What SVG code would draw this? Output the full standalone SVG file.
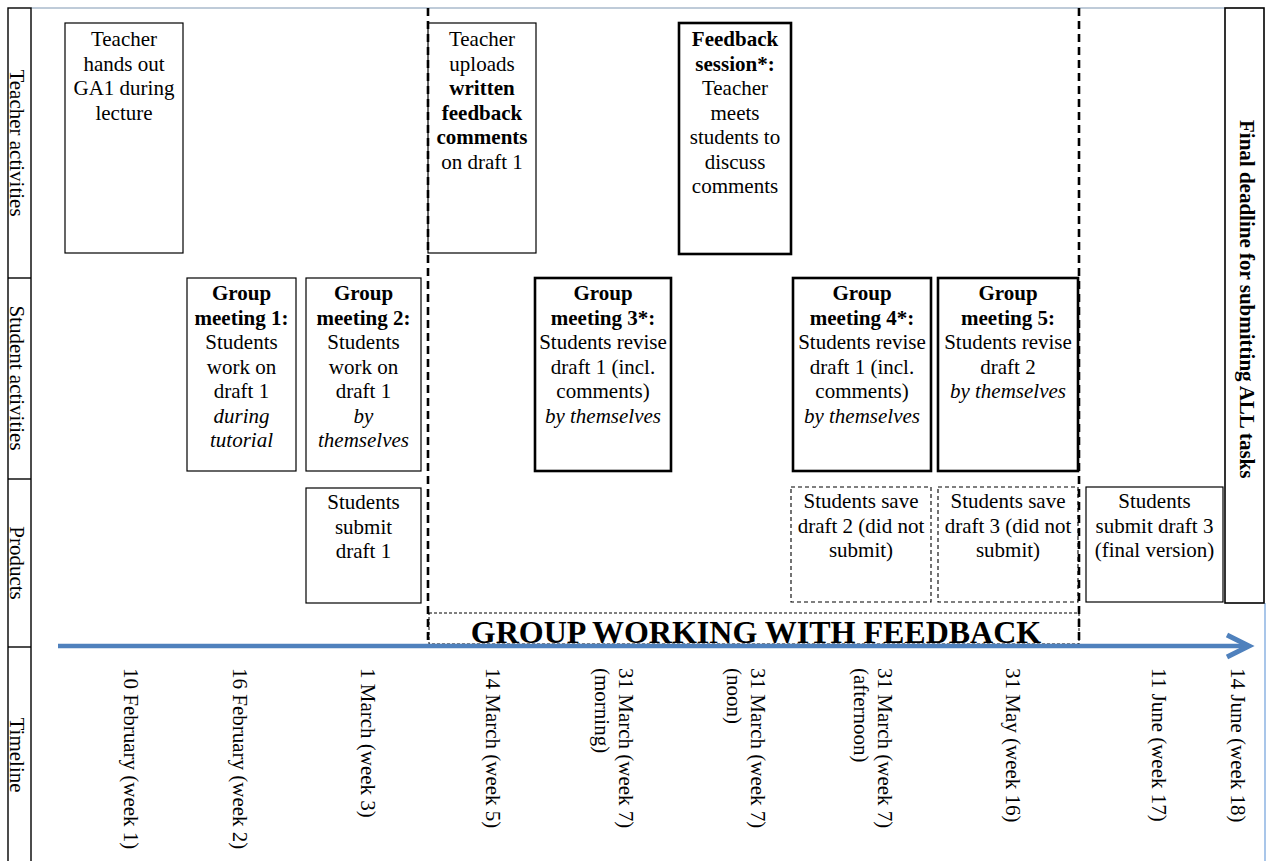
<svg xmlns="http://www.w3.org/2000/svg" width="1270" height="861" viewBox="0 0 1270 861">
<style>
text{font-family:"Liberation Serif","Times New Roman",serif;font-size:21px;fill:#000}
.c{text-anchor:middle}
.b{font-weight:bold}
.i{font-style:italic}
.thin{fill:#fff;stroke:#000;stroke-width:1.2}
.thick{fill:#fff;stroke:#000;stroke-width:2.6}
.dash{fill:#fff;stroke:#000;stroke-width:1.1;stroke-dasharray:4 3}
.bigdash{fill:none;stroke:#000;stroke-width:2.6;stroke-dasharray:8 5}
</style>
<defs>
<marker id="chev" markerUnits="userSpaceOnUse" markerWidth="34" markerHeight="32" refX="26" refY="15" orient="auto">
<path d="M4,4 L26,15 L4,26" fill="none" stroke="#4f81bd" stroke-width="5"/>
</marker>
</defs>
<rect width="1270" height="861" fill="#fff"/>

<g id="frame">
<line x1="31" y1="8" x2="1225" y2="8" stroke="#7f97b2" stroke-width="1"/>
<line x1="1265" y1="603" x2="1265" y2="861" stroke="#8db3e2" stroke-width="1.5"/>
<rect x="8" y="8" width="23" height="870" fill="none" stroke="#000" stroke-width="1.4"/>
<line x1="8" y1="278" x2="31" y2="278" stroke="#000" stroke-width="1.4"/>
<line x1="8" y1="479" x2="31" y2="479" stroke="#000" stroke-width="1.4"/>
<line x1="8" y1="647" x2="31" y2="647" stroke="#000" stroke-width="1.4"/>
</g>

<g id="row-labels">
<text class="c" transform="translate(10,143) rotate(90)">Teacher activities</text>
<text class="c" transform="translate(10,378) rotate(90)">Student activities</text>
<text class="c" transform="translate(10,563) rotate(90)">Products</text>
<text class="c" transform="translate(10,755) rotate(90)">Timeline</text>
</g>

<g id="n-teacher-hands-out">
<rect class="thin" x="65" y="23" width="118" height="230"/>
<text class="c" x="124" y="46">Teacher</text>
<text class="c" x="124" y="70.5">hands out</text>
<text class="c" x="124" y="95">GA1 during</text>
<text class="c" x="124" y="119.5">lecture</text>
</g>

<g id="n-teacher-uploads">
<rect class="thin" x="428" y="23" width="108" height="230"/>
<text class="c" x="482" y="46">Teacher</text>
<text class="c" x="482" y="70.5">uploads</text>
<text class="c b" x="482" y="95">written</text>
<text class="c b" x="482" y="119.5">feedback</text>
<text class="c b" x="482" y="144">comments</text>
<text class="c" x="482" y="168.5">on draft 1</text>
</g>

<g id="n-feedback-session">
<rect class="thick" x="679" y="23" width="112" height="231"/>
<text class="c b" x="735" y="46">Feedback</text>
<text class="c b" x="735" y="70.5">session*:</text>
<text class="c" x="735" y="95">Teacher</text>
<text class="c" x="735" y="119.5">meets</text>
<text class="c" x="735" y="144">students to</text>
<text class="c" x="735" y="168.5">discuss</text>
<text class="c" x="735" y="193">comments</text>
</g>

<g id="n-group-meeting-1">
<rect class="thin" x="187" y="278" width="109" height="193"/>
<text class="c b" x="241.5" y="300">Group</text>
<text class="c b" x="241.5" y="324.5">meeting 1:</text>
<text class="c" x="241.5" y="349">Students</text>
<text class="c" x="241.5" y="373.5">work on</text>
<text class="c" x="241.5" y="398">draft 1</text>
<text class="c i" x="241.5" y="422.5">during</text>
<text class="c i" x="241.5" y="447">tutorial</text>
</g>

<g id="n-group-meeting-2">
<rect class="thin" x="306" y="278" width="115" height="193"/>
<text class="c b" x="363.5" y="300">Group</text>
<text class="c b" x="363.5" y="324.5">meeting 2:</text>
<text class="c" x="363.5" y="349">Students</text>
<text class="c" x="363.5" y="373.5">work on</text>
<text class="c" x="363.5" y="398">draft 1</text>
<text class="c i" x="363.5" y="422.5">by</text>
<text class="c i" x="363.5" y="447">themselves</text>
</g>

<g id="n-submit-draft-1">
<rect class="thin" x="306" y="488" width="115" height="115"/>
<text class="c" x="363.5" y="509">Students</text>
<text class="c" x="363.5" y="533.5">submit</text>
<text class="c" x="363.5" y="558">draft 1</text>
</g>

<g id="n-group-meeting-3">
<rect class="thick" x="535" y="278" width="136" height="193"/>
<text class="c b" x="603" y="300">Group</text>
<text class="c b" x="603" y="324.5">meeting 3*:</text>
<text class="c" x="603" y="349">Students revise</text>
<text class="c" x="603" y="373.5">draft 1 (incl.</text>
<text class="c" x="603" y="398">comments)</text>
<text class="c i" x="603" y="422.5">by themselves</text>
</g>

<g id="n-group-meeting-4">
<rect class="thick" x="793" y="278" width="138" height="193"/>
<text class="c b" x="862" y="300">Group</text>
<text class="c b" x="862" y="324.5">meeting 4*:</text>
<text class="c" x="862" y="349">Students revise</text>
<text class="c" x="862" y="373.5">draft 1 (incl.</text>
<text class="c" x="862" y="398">comments)</text>
<text class="c i" x="862" y="422.5">by themselves</text>
</g>

<g id="n-group-meeting-5">
<rect class="thick" x="938" y="278" width="140" height="193"/>
<text class="c b" x="1008" y="300">Group</text>
<text class="c b" x="1008" y="324.5">meeting 5:</text>
<text class="c" x="1008" y="349">Students revise</text>
<text class="c" x="1008" y="373.5">draft 2</text>
<text class="c i" x="1008" y="398">by themselves</text>
</g>

<g id="n-save-draft-2">
<rect class="dash" x="791" y="487" width="140" height="115"/>
<text class="c" x="861" y="508">Students save</text>
<text class="c" x="861" y="532.5">draft 2 (did not</text>
<text class="c" x="861" y="557">submit)</text>
</g>

<g id="n-save-draft-3">
<rect class="dash" x="938" y="487" width="140" height="115"/>
<text class="c" x="1008" y="508">Students save</text>
<text class="c" x="1008" y="532.5">draft 3 (did not</text>
<text class="c" x="1008" y="557">submit)</text>
</g>

<g id="n-submit-draft-3">
<rect class="thin" x="1086" y="487" width="137" height="115"/>
<text class="c" x="1154.5" y="508">Students</text>
<text class="c" x="1154.5" y="532.5">submit draft 3</text>
<text class="c" x="1154.5" y="557">(final version)</text>
</g>

<g id="n-final-deadline">
<rect x="1225" y="8" width="39" height="595" fill="#fff" stroke="#000" stroke-width="1.6"/>
<text class="b" transform="translate(1240,120) rotate(90)">Final deadline for submitting ALL tasks</text>
</g>

<g id="n-group-working">
<rect x="429" y="613" width="650" height="31" fill="none" stroke="#000" stroke-width="1" stroke-dasharray="3 2"/>
<line class="bigdash" x1="428" y1="8" x2="428" y2="646"/>
<line class="bigdash" x1="1079" y1="8" x2="1079" y2="646"/>
</g>

<g id="connectors">
<line x1="58" y1="646" x2="1249" y2="646" stroke="#4f81bd" stroke-width="4.5" marker-end="url(#chev)"/>
</g>

<g id="group-label">
<text class="c b" x="756" y="643" style="font-size:32px">GROUP WORKING WITH FEEDBACK</text>
</g>

<g id="timeline-labels">
<text transform="translate(124,668) rotate(90)">10 February (week 1)</text>
<text transform="translate(233,668) rotate(90)">16 February (week 2)</text>
<text transform="translate(361,668) rotate(90)">1 March (week 3)</text>
<text transform="translate(486,668) rotate(90)">14 March (week 5)</text>
<text transform="translate(619,668) rotate(90)">31 March (week 7)</text>
<text transform="translate(594.5,668) rotate(90)">(morning)</text>
<text transform="translate(751,668) rotate(90)">31 March (week 7)</text>
<text transform="translate(726.5,668) rotate(90)">(noon)</text>
<text transform="translate(878,668) rotate(90)">31 March (week 7)</text>
<text transform="translate(853.5,668) rotate(90)">(afternoon)</text>
<text transform="translate(1006,668) rotate(90)">31 May (week 16)</text>
<text transform="translate(1152,668) rotate(90)">11 June (week 17)</text>
<text transform="translate(1231,668) rotate(90)">14 June (week 18)</text>
</g>
</svg>
